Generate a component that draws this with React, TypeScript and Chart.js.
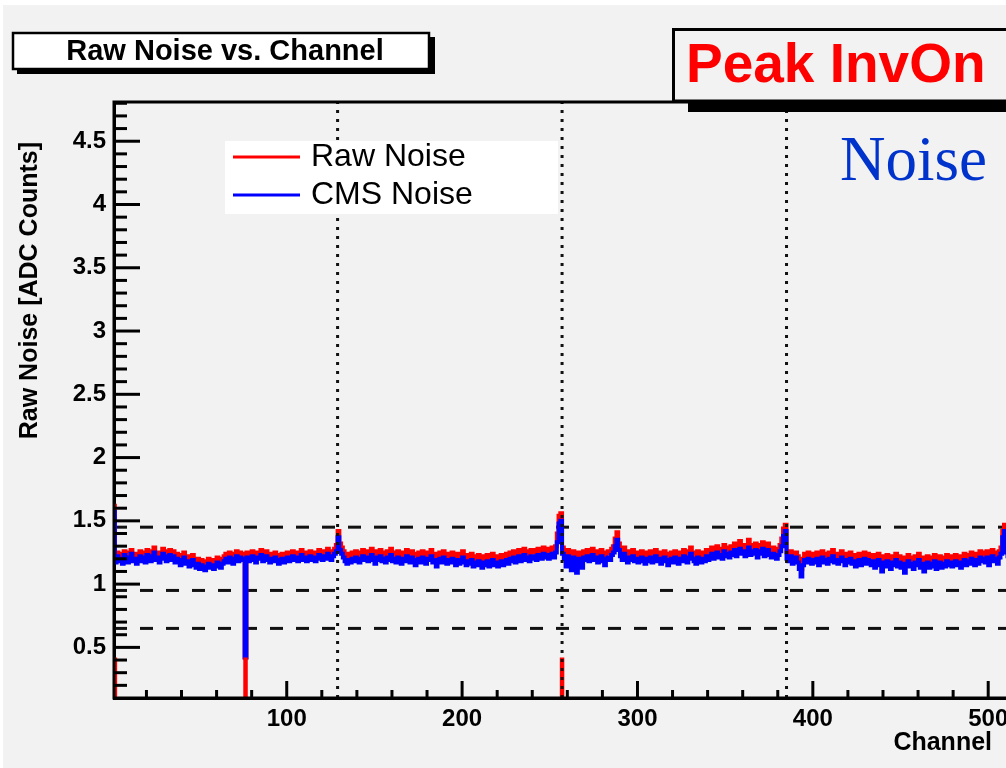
import React, { useEffect, useRef } from "react";
import { Chart, registerables } from "chart.js";

Chart.register(...registerables);

// ---------------- data ----------------
const FIRST_CHANNEL = 1;

const CMS_NOISE = [
  1.57, 1.17, 1.22, 1.18, 1.20, 1.16, 1.23, 1.19, 1.17, 1.21, 1.24, 1.18, 1.20, 1.16, 1.19, 1.22,
  1.18, 1.21, 1.17, 1.23, 1.20, 1.18, 1.22, 1.25, 1.19, 1.21, 1.17, 1.20, 1.24, 1.22, 1.18, 1.21,
  1.23, 1.19, 1.22, 1.17, 1.20, 1.18, 1.15, 1.19, 1.21, 1.16, 1.18, 1.14, 1.17, 1.19, 1.15, 1.13,
  1.16, 1.12, 1.15, 1.13, 1.11, 1.14, 1.16, 1.13, 1.15, 1.12, 1.14, 1.17, 1.15, 1.13, 1.16, 1.18,
  1.20, 1.17, 1.21, 1.19, 1.16, 1.20, 1.22, 1.18, 1.21, 1.19, 1.20, 0.42, 1.21, 1.18, 1.20, 1.22,
  1.19, 1.17, 1.21, 1.20, 1.23, 1.18, 1.20, 1.22, 1.19, 1.17, 1.20, 1.18, 1.21, 1.19, 1.16, 1.18,
  1.20, 1.17, 1.19, 1.21, 1.18, 1.20, 1.22, 1.19, 1.21, 1.18, 1.20, 1.23, 1.19, 1.21, 1.18, 1.20,
  1.22, 1.19, 1.21, 1.18, 1.20, 1.23, 1.21, 1.19, 1.22, 1.20, 1.24, 1.21, 1.19, 1.22, 1.24, 1.26,
  1.37, 1.27, 1.24, 1.21, 1.18, 1.16, 1.19, 1.17, 1.20, 1.18, 1.21, 1.19, 1.17, 1.20, 1.22, 1.19,
  1.21, 1.18, 1.20, 1.23, 1.19, 1.16, 1.21, 1.19, 1.22, 1.18, 1.20, 1.17, 1.21, 1.19, 1.23, 1.18,
  1.20, 1.17, 1.21, 1.19, 1.16, 1.20, 1.18, 1.22, 1.19, 1.17, 1.21, 1.18, 1.15, 1.19, 1.20, 1.17,
  1.21, 1.18, 1.16, 1.20, 1.19, 1.22, 1.17, 1.19, 1.14, 1.18, 1.20, 1.17, 1.21, 1.18, 1.16, 1.19,
  1.17, 1.20, 1.18, 1.15, 1.19, 1.16, 1.18, 1.21, 1.17, 1.15, 1.18, 1.16, 1.19, 1.14, 1.17, 1.15,
  1.18, 1.16, 1.13, 1.17, 1.15, 1.18, 1.14, 1.16, 1.19, 1.15, 1.17, 1.14, 1.16, 1.18, 1.15, 1.17,
  1.19, 1.16, 1.20, 1.18, 1.21, 1.17, 1.19, 1.22, 1.18, 1.20, 1.23, 1.19, 1.21, 1.18, 1.22, 1.20,
  1.22, 1.19, 1.23, 1.21, 1.20, 1.24, 1.21, 1.23, 1.20, 1.22, 1.24, 1.21, 1.25, 1.33, 1.48, 1.50,
  1.24, 1.20, 1.14, 1.22, 1.18, 1.11, 1.21, 1.16, 1.09, 1.20, 1.17, 1.13, 1.21, 1.19, 1.22, 1.18,
  1.20, 1.23, 1.19, 1.21, 1.17, 1.20, 1.22, 1.18, 1.15, 1.20, 1.21, 1.19, 1.23, 1.25, 1.30, 1.35,
  1.27, 1.22, 1.19, 1.24, 1.20, 1.17, 1.21, 1.19, 1.22, 1.18, 1.20, 1.17, 1.19, 1.21, 1.18, 1.16,
  1.20, 1.18, 1.21, 1.17, 1.19, 1.22, 1.18, 1.20, 1.16, 1.19, 1.21, 1.18, 1.15, 1.19, 1.20, 1.17,
  1.21, 1.19, 1.16, 1.20, 1.18, 1.22, 1.19, 1.17, 1.21, 1.24, 1.20, 1.18, 1.16, 1.21, 1.19, 1.17,
  1.20, 1.18, 1.22, 1.19, 1.21, 1.24, 1.20, 1.22, 1.25, 1.21, 1.23, 1.20, 1.26, 1.22, 1.24, 1.21,
  1.25, 1.23, 1.27, 1.22, 1.25, 1.28, 1.24, 1.26, 1.22, 1.25, 1.29, 1.23, 1.26, 1.24, 1.27, 1.21,
  1.26, 1.24, 1.28, 1.22, 1.25, 1.27, 1.23, 1.21, 1.24, 1.22, 1.20, 1.23, 1.26, 1.30, 1.38, 1.42,
  1.20, 1.18, 1.22, 1.16, 1.19, 1.21, 1.17, 1.12, 1.06, 1.15, 1.19, 1.17, 1.20, 1.18, 1.16, 1.19,
  1.17, 1.20, 1.15, 1.18, 1.21, 1.17, 1.19, 1.16, 1.20, 1.18, 1.22, 1.17, 1.19, 1.16, 1.18, 1.21,
  1.18, 1.15, 1.19, 1.17, 1.20, 1.16, 1.18, 1.14, 1.17, 1.19, 1.15, 1.18, 1.20, 1.16, 1.19, 1.17,
  1.15, 1.18, 1.13, 1.17, 1.19, 1.15, 1.10, 1.17, 1.14, 1.18, 1.16, 1.12, 1.17, 1.15, 1.19, 1.14,
  1.17, 1.13, 1.16, 1.09, 1.15, 1.18, 1.14, 1.16, 1.12, 1.17, 1.15, 1.19, 1.13, 1.16, 1.10, 1.15,
  1.17, 1.13, 1.16, 1.14, 1.18, 1.12, 1.15, 1.17, 1.13, 1.16, 1.14, 1.18, 1.15, 1.17, 1.14, 1.16,
  1.18, 1.15, 1.17, 1.13, 1.16, 1.19, 1.15, 1.18, 1.16, 1.20, 1.17, 1.15, 1.19, 1.16, 1.21, 1.18,
  1.20, 1.17, 1.21, 1.15, 1.19, 1.22, 1.18, 1.20, 1.16, 1.21, 1.24, 1.37, 1.42, 1.25, 1.22, 1.20,
];

const RAW_NOISE = [
  1.62, 1.21, 1.25, 1.23, 1.24, 1.21, 1.26, 1.23, 1.22, 1.25, 1.27, 1.22, 1.24, 1.21, 1.23, 1.26,
  1.22, 1.25, 1.21, 1.27, 1.24, 1.22, 1.26, 1.29, 1.23, 1.25, 1.22, 1.24, 1.28, 1.26, 1.23, 1.25,
  1.27, 1.23, 1.26, 1.22, 1.24, 1.22, 1.20, 1.23, 1.25, 1.20, 1.22, 1.19, 1.21, 1.23, 1.19, 1.18,
  1.20, 1.17, 1.19, 1.18, 1.16, 1.18, 1.20, 1.17, 1.19, 1.17, 1.18, 1.21, 1.19, 1.18, 1.20, 1.22,
  1.24, 1.21, 1.25, 1.23, 1.21, 1.24, 1.26, 1.22, 1.25, 1.23, 1.24, 0.42, 1.25, 1.22, 1.24, 1.26,
  1.23, 1.21, 1.25, 1.24, 1.27, 1.22, 1.24, 1.26, 1.23, 1.21, 1.24, 1.22, 1.25, 1.23, 1.20, 1.22,
  1.24, 1.21, 1.23, 1.25, 1.22, 1.24, 1.26, 1.23, 1.25, 1.22, 1.24, 1.27, 1.23, 1.25, 1.22, 1.24,
  1.26, 1.23, 1.25, 1.22, 1.24, 1.27, 1.25, 1.23, 1.26, 1.24, 1.28, 1.25, 1.23, 1.26, 1.28, 1.31,
  1.42, 1.32, 1.29, 1.26, 1.23, 1.21, 1.24, 1.22, 1.25, 1.23, 1.26, 1.24, 1.22, 1.25, 1.27, 1.24,
  1.26, 1.23, 1.25, 1.28, 1.24, 1.21, 1.26, 1.24, 1.27, 1.23, 1.25, 1.22, 1.26, 1.24, 1.28, 1.23,
  1.25, 1.22, 1.26, 1.24, 1.21, 1.25, 1.23, 1.27, 1.24, 1.22, 1.26, 1.23, 1.20, 1.24, 1.25, 1.22,
  1.26, 1.23, 1.21, 1.25, 1.24, 1.27, 1.22, 1.24, 1.19, 1.23, 1.25, 1.22, 1.26, 1.23, 1.21, 1.24,
  1.22, 1.25, 1.23, 1.20, 1.24, 1.21, 1.23, 1.26, 1.22, 1.20, 1.23, 1.21, 1.24, 1.19, 1.22, 1.20,
  1.23, 1.21, 1.18, 1.22, 1.20, 1.23, 1.19, 1.21, 1.24, 1.20, 1.22, 1.19, 1.21, 1.23, 1.20, 1.22,
  1.24, 1.21, 1.25, 1.23, 1.26, 1.22, 1.24, 1.27, 1.23, 1.25, 1.28, 1.24, 1.26, 1.23, 1.27, 1.25,
  1.27, 1.24, 1.28, 1.26, 1.25, 1.29, 1.26, 1.28, 1.25, 1.27, 1.29, 1.26, 1.30, 1.40, 1.54, 1.56,
  1.29, 1.25, 1.20, 1.27, 1.23, 1.17, 1.26, 1.21, 1.15, 1.25, 1.22, 1.18, 1.26, 1.24, 1.27, 1.23,
  1.25, 1.28, 1.24, 1.26, 1.22, 1.25, 1.27, 1.23, 1.20, 1.25, 1.26, 1.24, 1.28, 1.30, 1.36, 1.41,
  1.32, 1.27, 1.24, 1.29, 1.25, 1.22, 1.26, 1.24, 1.27, 1.23, 1.25, 1.22, 1.24, 1.26, 1.23, 1.21,
  1.25, 1.23, 1.26, 1.22, 1.24, 1.27, 1.23, 1.25, 1.21, 1.24, 1.26, 1.23, 1.20, 1.24, 1.25, 1.22,
  1.26, 1.24, 1.21, 1.25, 1.23, 1.27, 1.24, 1.22, 1.26, 1.29, 1.25, 1.23, 1.21, 1.26, 1.24, 1.22,
  1.25, 1.23, 1.27, 1.24, 1.26, 1.29, 1.25, 1.27, 1.30, 1.26, 1.28, 1.25, 1.31, 1.27, 1.29, 1.26,
  1.30, 1.28, 1.32, 1.27, 1.30, 1.34, 1.29, 1.31, 1.27, 1.30, 1.35, 1.28, 1.31, 1.29, 1.32, 1.26,
  1.31, 1.29, 1.33, 1.27, 1.30, 1.32, 1.28, 1.26, 1.29, 1.27, 1.25, 1.28, 1.31, 1.36, 1.44, 1.47,
  1.25, 1.23, 1.26, 1.21, 1.24, 1.25, 1.22, 1.17, 1.12, 1.20, 1.24, 1.22, 1.25, 1.23, 1.21, 1.24,
  1.22, 1.25, 1.20, 1.23, 1.26, 1.22, 1.24, 1.21, 1.25, 1.23, 1.27, 1.22, 1.24, 1.21, 1.23, 1.26,
  1.23, 1.20, 1.24, 1.22, 1.25, 1.21, 1.23, 1.19, 1.22, 1.24, 1.20, 1.23, 1.25, 1.21, 1.24, 1.22,
  1.20, 1.23, 1.18, 1.22, 1.24, 1.20, 1.16, 1.22, 1.19, 1.23, 1.21, 1.17, 1.22, 1.20, 1.24, 1.19,
  1.22, 1.18, 1.21, 1.15, 1.20, 1.23, 1.19, 1.21, 1.17, 1.22, 1.20, 1.24, 1.18, 1.21, 1.16, 1.20,
  1.22, 1.18, 1.21, 1.19, 1.23, 1.17, 1.20, 1.22, 1.18, 1.21, 1.19, 1.23, 1.20, 1.22, 1.19, 1.21,
  1.23, 1.20, 1.22, 1.18, 1.21, 1.24, 1.20, 1.23, 1.21, 1.25, 1.22, 1.20, 1.24, 1.21, 1.26, 1.23,
  1.25, 1.22, 1.26, 1.20, 1.24, 1.27, 1.23, 1.25, 1.21, 1.26, 1.29, 1.42, 1.47, 1.30, 1.27, 1.25,
];

// red low segments (raw noise of flagged strips, drawn from the axis floor)
const SPIKE_CHANNELS = [2, 76.5, 257];
const SPIKE_TOPS = [0.42, 0.42, 0.42];

const THRESHOLDS = [1.45, 0.95, 0.65];
const APV_BOUNDARIES = [129, 257, 385];

const X_TICKS = [100, 200, 300, 400, 500];
const Y_TICKS = [0.5, 1, 1.5, 2, 2.5, 3, 3.5, 4, 4.5];
const X_MINOR_STEP = 20;
const Y_MINOR_TENTHS = 1;

const X_MIN = 1.5;
const X_MAX = 513;
const Y_MIN = 0.1;
const Y_MAX = 4.81;

const TITLE = "Raw Noise vs. Channel";
const X_TITLE = "Channel";
const Y_TITLE = "Raw Noise [ADC Counts]";
const LEGEND_LABELS = ["Raw Noise", "CMS Noise"];
const TAG_TEXT = "Peak InvOn";
const NOTE_TEXT = "Noise";

// ---------------- style ----------------
const W = 1030;
const H = 768;
const SANS = "'Liberation Sans', Arial, Helvetica, sans-serif";
const SERIF = "'Liberation Serif', 'Times New Roman', serif";
const RED = "#ff0000";
const BLUE = "#0000ff";

function histPoints(vals: number[]) {
  const pts = vals.map((v, i) => ({ x: FIRST_CHANNEL + i, y: v }));
  pts.push({ x: FIRST_CHANNEL + vals.length, y: vals[vals.length - 1] });
  return pts;
}

function spikePoints() {
  const pts: { x: number; y: number | null }[] = [];
  SPIKE_CHANNELS.forEach((c, i) => {
    pts.push({ x: c, y: Y_MIN });
    pts.push({ x: c, y: SPIKE_TOPS[i] });
    pts.push({ x: c, y: null });
  });
  return pts;
}

const decorPlugin = {
  id: "rootDecor",
  beforeDraw(chart: any) {
    const ctx = chart.ctx;
    ctx.save();
    ctx.fillStyle = "#ffffff";
    ctx.fillRect(0, 0, W, H);
    ctx.fillStyle = "#f2f2f2";
    ctx.fillRect(3, 5, W, H);
    ctx.restore();
  },
  afterDatasetsDraw(chart: any) {
    const ctx = chart.ctx;
    const { left, top, right, bottom } = chart.chartArea;
    const xs = chart.scales.x;
    const ys = chart.scales.y;
    ctx.save();
    ctx.strokeStyle = "#000";
    ctx.lineWidth = 3;
    // inward tick marks, y
    for (let k = 1; k * 0.1 < Y_MAX; k += Y_MINOR_TENTHS) {
      const v = k / 10;
      if (v <= Y_MIN) continue;
      const major = k % 5 === 0;
      const py = ys.getPixelForValue(v);
      ctx.beginPath();
      ctx.moveTo(left, py);
      ctx.lineTo(left + (major ? 26 : 13), py);
      ctx.stroke();
    }
    // inward tick marks, x
    for (let c = X_MINOR_STEP; c < X_MAX; c += X_MINOR_STEP) {
      const major = c % 100 === 0;
      const px = xs.getPixelForValue(c);
      ctx.beginPath();
      ctx.moveTo(px, bottom);
      ctx.lineTo(px, bottom - (major ? 17 : 8));
      ctx.stroke();
    }
    // frame
    ctx.strokeRect(left, top, right - left, bottom - top);
    ctx.restore();
  },
  afterDraw(chart: any) {
    const ctx = chart.ctx;
    ctx.save();

    // legend
    ctx.fillStyle = "#ffffff";
    ctx.fillRect(225, 141, 333, 73);
    const legendColors = [RED, BLUE];
    const legendY = [157, 195];
    LEGEND_LABELS.forEach((lab, i) => {
      ctx.strokeStyle = legendColors[i];
      ctx.lineWidth = 3;
      ctx.beginPath();
      ctx.moveTo(233, legendY[i]);
      ctx.lineTo(300, legendY[i]);
      ctx.stroke();
      ctx.fillStyle = "#000";
      ctx.font = `32px ${SANS}`;
      ctx.textAlign = "left";
      ctx.textBaseline = "middle";
      ctx.fillText(lab, 311, legendY[i]);
    });

    // title box with shadow
    ctx.fillStyle = "#000";
    ctx.fillRect(430, 37, 5, 37);
    ctx.fillRect(17, 70, 418, 4);
    ctx.fillStyle = "#ffffff";
    ctx.fillRect(12, 32, 418, 38);
    ctx.strokeStyle = "#000";
    ctx.lineWidth = 2.5;
    ctx.strokeRect(13, 33, 416, 36);
    ctx.fillStyle = "#000";
    ctx.font = `bold 29px ${SANS}`;
    ctx.textAlign = "center";
    ctx.textBaseline = "alphabetic";
    ctx.fillText(TITLE, 225, 60);

    // tag box with shadow
    ctx.fillStyle = "#000";
    ctx.fillRect(688, 102, W - 688, 10);
    ctx.fillStyle = "#f2f2f2";
    ctx.fillRect(672, 28, W - 672, 74);
    ctx.strokeStyle = "#000";
    ctx.lineWidth = 3;
    ctx.strokeRect(673.5, 29.5, W, 71.5);
    ctx.fillStyle = RED;
    ctx.font = `bold 55px ${SANS}`;
    ctx.textAlign = "left";
    ctx.fillText(TAG_TEXT, 686, 82);

    // note
    ctx.fillStyle = "#0033cc";
    ctx.font = `63px ${SERIF}`;
    ctx.fillText(NOTE_TEXT, 840, 180);

    // axis titles
    ctx.fillStyle = "#000";
    ctx.font = `bold 25px ${SANS}`;
    ctx.textAlign = "right";
    ctx.fillText(X_TITLE, 992, 750);
    ctx.translate(37, 142);
    ctx.rotate(-Math.PI / 2);
    ctx.textAlign = "right";
    ctx.fillText(Y_TITLE, 0, 0);
    ctx.restore();
  },
};

export default function App() {
  const ref = useRef<HTMLCanvasElement | null>(null);
  useEffect(() => {
    if (!ref.current) return;
    const chart = new Chart(ref.current, {
      type: "line",
      data: {
        datasets: [
          ...APV_BOUNDARIES.map((b) => ({
            label: "boundary",
            data: [
              { x: b, y: Y_MIN },
              { x: b, y: Y_MAX },
            ],
            borderColor: "#111",
            borderWidth: 3,
            borderDash: [3, 6],
            pointRadius: 0,
            order: 0,
          })),
          {
            label: "spikes",
            data: spikePoints(),
            borderColor: RED,
            borderWidth: 4.5,
            pointRadius: 0,
            spanGaps: false,
            order: 1,
          },
          {
            label: LEGEND_LABELS[1],
            data: histPoints(CMS_NOISE),
            borderColor: BLUE,
            borderWidth: 4,
            stepped: true,
            pointRadius: 0,
            order: 2,
          },
          {
            label: LEGEND_LABELS[0],
            data: histPoints(RAW_NOISE),
            borderColor: RED,
            borderWidth: 4,
            stepped: true,
            pointRadius: 0,
            order: 3,
          },
          ...THRESHOLDS.map((t) => ({
            label: "threshold",
            data: [
              { x: X_MIN, y: t },
              { x: X_MAX, y: t },
            ],
            borderColor: "#111",
            borderWidth: 3,
            borderDash: [13, 13],
            pointRadius: 0,
            order: 4,
          })),
        ] as any,
      },
      options: {
        responsive: false,
        animation: false,
        devicePixelRatio: 1,
        clip: 0 as any,
        layout: { padding: { left: 0, top: 102, right: 19, bottom: 0 } },
        plugins: {
          legend: { display: false },
          tooltip: { enabled: false },
          title: { display: false },
        },
        scales: {
          x: {
            type: "linear",
            min: X_MIN,
            max: X_MAX,
            grid: { display: false, drawTicks: false },
            border: { display: true, color: "#000", width: 3 },
            afterBuildTicks: (axis: any) => {
              axis.ticks = X_TICKS.map((v) => ({ value: v }));
            },
            afterFit: (scale: any) => {
              scale.height = 70;
            },
            ticks: {
              autoSkip: false,
              maxRotation: 0,
              padding: 7,
              color: "#000",
              font: { family: SANS, size: 24, weight: "bold" },
              callback: (v: any) => String(v),
            },
          },
          y: {
            type: "linear",
            min: Y_MIN,
            max: Y_MAX,
            grid: { display: false, drawTicks: false },
            border: { display: true, color: "#000", width: 3 },
            afterBuildTicks: (axis: any) => {
              axis.ticks = Y_TICKS.map((v) => ({ value: v }));
            },
            afterFit: (scale: any) => {
              scale.width = 114;
            },
            ticks: {
              autoSkip: false,
              padding: 8,
              color: "#000",
              font: { family: SANS, size: 24, weight: "bold" },
              callback: (v: any) => String(v),
            },
          },
        },
      } as any,
      plugins: [decorPlugin],
    });
    return () => chart.destroy();
  }, []);

  return (
    <div
      style={{
        position: "fixed",
        left: 0,
        top: 0,
        width: "100vw",
        height: "100vh",
        overflow: "hidden",
        background: "#f2f2f2",
      }}
    >
      <canvas
        ref={ref}
        width={W}
        height={H}
        style={{ display: "block", width: W, height: H }}
      />
    </div>
  );
}
